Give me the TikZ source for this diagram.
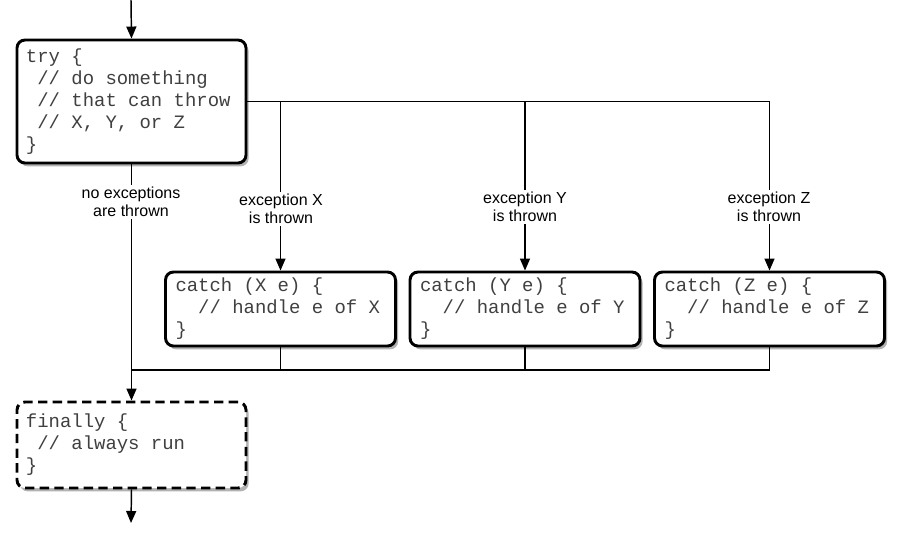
\documentclass[tikz,border=0pt]{standalone}
\usepackage{fontspec}
\setmainfont{Liberation Sans}
\setmonofont{Liberation Mono}
\usetikzlibrary{arrows.meta,shadows,calc}
\newcommand\csp{\hspace*{0.6em}}
\tikzset{
  codebox/.style={draw, line width=2.2pt, rounded corners=6pt, fill=white,
    drop shadow={shadow xshift=2pt, shadow yshift=-2.5pt, fill=black, opacity=0.3},
    font=\ttfamily\fontsize{14.2}{16.5}\selectfont, text=black!75, align=left,
    inner ysep=0pt, anchor=center},
  trybox/.style={codebox, inner xsep=6.75pt, text width=158.25pt, minimum height=92.25pt},
  catchbox/.style={codebox, inner xsep=7.5pt, text width=157.5pt, minimum height=55.5pt},
  finbox/.style={trybox, minimum height=64.5pt, dash pattern=on 7pt off 4pt},
  lbl/.style={fill=white, font=\fontsize{12}{13.5}\selectfont, align=center, inner sep=1.5pt},
  conn/.style={line width=1.1pt},
  arr/.style={conn, -{Triangle[length=9pt,width=7.5pt]}}
}
\begin{document}
\begin{tikzpicture}[x=0.75pt,y=-0.75pt]
\useasboundingbox[fill=white] (0,0) rectangle (900,540);
\node[trybox] (try) at (131.5,101.5) {try\csp\{\\\csp//\csp do\csp something\\\csp//\csp that\csp can\csp throw\\\csp//\csp X,\csp Y,\csp or\csp Z\\\}};
\node[catchbox] (cx) at (280.5,309) {catch\csp(X\csp e)\csp\{\\\csp\csp//\csp handle\csp e\csp of\csp X\\\}};
\node[catchbox] (cy) at (525,309) {catch\csp(Y\csp e)\csp\{\\\csp\csp//\csp handle\csp e\csp of\csp Y\\\}};
\node[catchbox] (cz) at (769.5,309) {catch\csp(Z\csp e)\csp\{\\\csp\csp//\csp handle\csp e\csp of\csp Z\\\}};
\node[finbox] (fin) at (131.5,445) {finally\csp\{\\\csp//\csp always\csp run\\\}};
\coordinate (start) at (131,0);
\coordinate (stop) at (131,523);
\coordinate (join) at (131,370);
\coordinate (bx) at (cx.north |- try.east);
\coordinate (by) at (cy.north |- try.east);
\draw[arr] (start) -- (try.north);
\draw[arr] (try.east) -| (cz.north);
\draw[arr] (bx) -- (cx.north);
\draw[arr] (by) -- (cy.north);
\draw[arr] (try.south) -- (fin.north);
\draw[conn] (cz.south) |- (join);
\draw[conn] (cx.south) -- (cx.south |- join);
\draw[conn] (cy.south) -- (cy.south |- join);
\draw[arr] (fin.south) -- (stop);
\node[lbl] (lno) at (131,202) {no exceptions\\are thrown};
\node[lbl] (lx) at (281,209) {exception X\\is thrown};
\node[lbl] (ly) at (525,207) {exception Y\\is thrown};
\node[lbl] (lz) at (769,207) {exception Z\\is thrown};
\end{tikzpicture}
\end{document}
